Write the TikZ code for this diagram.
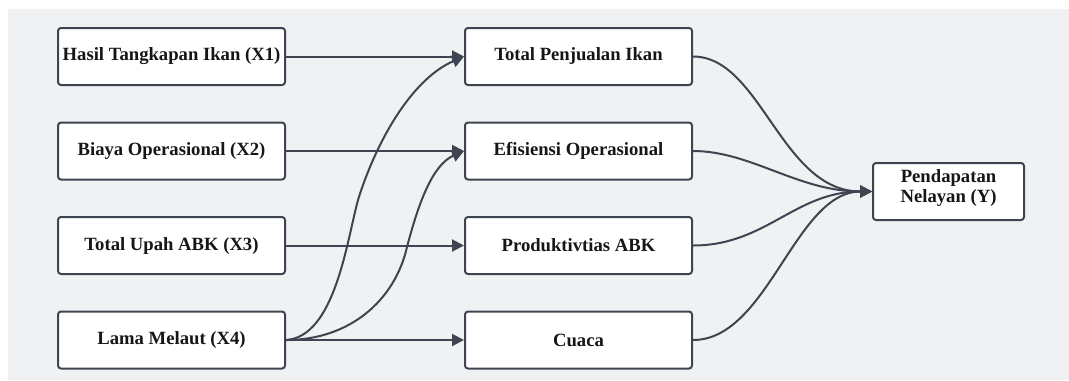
\documentclass[tikz,border=0pt]{standalone}
\usepackage{fontspec}
\setmainfont{Liberation Serif}
\usetikzlibrary{arrows.meta}
\definecolor{bg}{HTML}{F0F1F3}
\definecolor{edgec}{HTML}{3F4550}
\definecolor{txt}{HTML}{161616}
\begin{document}
\begin{tikzpicture}[x=0.75pt,y=-0.75pt,
  box/.style={draw=edgec, line width=1.5pt, fill=white, rounded corners=2.25pt,
    minimum width=170.25pt, minimum height=42.75pt, inner sep=1pt,
    font=\fontsize{14}{16}\selectfont\bfseries, text=txt, align=center},
  arr/.style={draw=edgec, line width=1.5pt, -{Triangle[length=9pt,width=9pt]}}]
\useasboundingbox (0,0) rectangle (1069,380);
\fill[white] (0,0) rectangle (1069,380);
\fill[bg] (8,9) rectangle (1069,380);

\node[box] (x1) at (171.5,56.5) {Hasil Tangkapan Ikan (X1)};
\node[box] (x2) at (171.5,151) {Biaya Operasional (X2)};
\node[box] (x3) at (171.5,245.5) {Total Upah ABK (X3)};
\node[box] (x4) at (171.5,340) {Lama Melaut (X4)};

\node[box] (m1) at (578.5,56.5) {Total Penjualan Ikan};
\node[box] (m2) at (578.5,151) {Efisiensi Operasional};
\node[box] (m3) at (578.5,245.5) {Produktivtias ABK};
\node[box] (m4) at (578.5,340) {Cuaca};

\node[box, minimum width=113.25pt] (y) at (948.5,191.5)
  {\raisebox{2.5pt}[\height][\depth]{\begin{tabular}{@{}c@{}}Pendapatan\\[-0.5pt]Nelayan (Y)\end{tabular}}};

\draw[arr] (x1) -- (m1);
\draw[arr] (x2) -- (m2);
\draw[arr] (x3) -- (m3);
\draw[arr] (x4) -- (m4);

\draw[arr] (x4.east) .. controls (335,337) and (347,240) .. (358,200)
                     .. controls (375,145) and (410,80) .. (m1.west);
\draw[arr] (x4.east) .. controls (350,340) and (395,300) .. (407,247)
                     .. controls (418,205) and (432,165) .. (m2.west);

\draw[arr] (m1.east) .. controls (761,56.5) and (781,191.5) .. (y.west);
\draw[arr] (m2.east) .. controls (751,151) and (798,191.5) .. (y.west);
\draw[arr] (m3.east) .. controls (766,245.5) and (795,191.5) .. (y.west);
\draw[arr] (m4.east) .. controls (768,340) and (795,191.5) .. (y.west);
\end{tikzpicture}
\end{document}
